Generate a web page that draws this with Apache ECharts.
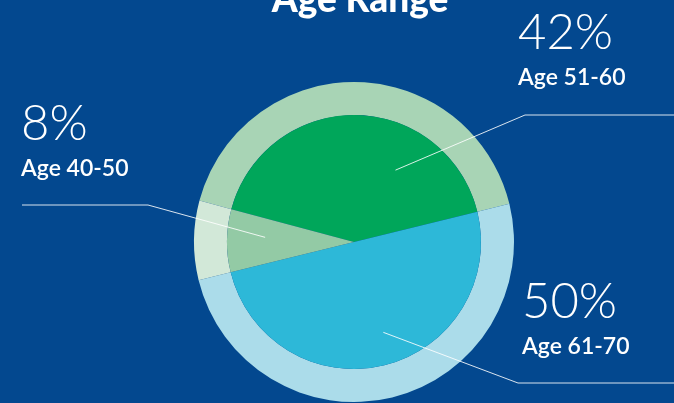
<!DOCTYPE html>
<html>
<head>
<meta charset="utf-8">
<script src="https://cdn.jsdelivr.net/npm/echarts@6/dist/echarts.min.js"></script>
<style>
  html, body { margin: 0; padding: 0; background: #03488f; }
  #main { width: 674px; height: 403px; }
</style>
</head>
<body>
<div id="main"></div>
<script>
// 数据
var ages = ['Age 51-60', 'Age 61-70', 'Age 40-50'];
var shares = [42, 50, 8];
var innerColors = ['#00a65a', '#2db8d8', '#93caa5'];
var ringColors = ['#a8d4b5', '#abdcea', '#d2e8d8'];

// 标签位置 (布局)
var cx = 354, cy = 242, rIn = 127, rOut = 160;
var spots = [
    { a: 60, r: 83, knee: [525, 115], endX: 674, x: 518, y: 7 },
    { a: -72, r: 95, knee: [518, 383], endX: 674, x: 522, y: 276 },
    { a: 177, r: 89, knee: [148, 205], endX: 22, x: 21, y: 98 }
];

var innerData = [], ringData = [], labelData = [];
for (var i = 0; i < ages.length; i++) {
    innerData.push({ name: ages[i], value: shares[i], itemStyle: { color: innerColors[i] } });
    ringData.push({ name: ages[i], value: shares[i], itemStyle: { color: ringColors[i] } });
    labelData.push({ name: ages[i], value: shares[i] });
}

var myChart = echarts.init(document.getElementById('main'));
var option = {
    backgroundColor: '#03488f',
    animation: false,
    title: {
        text: 'Age Range',
        left: 355,
        textAlign: 'center',
        top: -23,
        textStyle: { color: '#fff', fontFamily: 'Lato', fontWeight: 900, fontSize: 37 }
    },
    series: [
        {
            type: 'pie',
            center: [cx, cy],
            radius: [rIn, rOut],
            startAngle: 165,
            silent: true,
            label: { show: false },
            labelLine: { show: false },
            data: ringData
        },
        {
            type: 'pie',
            center: [cx, cy],
            radius: [0, rIn],
            startAngle: 165,
            silent: true,
            label: { show: false },
            labelLine: { show: false },
            data: innerData
        },
        {
            // 标签层
            type: 'pie',
            z: 10,
            center: [cx, cy],
            radius: [0, rIn],
            startAngle: 165,
            silent: true,
            itemStyle: { color: 'rgba(0,0,0,0)' },
            label: {
                show: true,
                position: 'outside',
                formatter: function (p) {
                    return '{p|' + p.value + '%}\n{n|' + p.name + '}';
                },
                rich: {
                    p: { color: '#fff', fontFamily: 'Lato', fontWeight: 300, fontSize: 49, lineHeight: 52 },
                    n: { color: '#fff', fontFamily: 'Lato', fontWeight: 600, fontSize: 23, lineHeight: 38 }
                }
            },
            labelLine: {
                show: true,
                lineStyle: { color: 'rgba(255,255,255,0.85)', width: 1 }
            },
            labelLayout: function (params) {
                var s = spots[params.dataIndex];
                var rad = s.a * Math.PI / 180;
                var start = [cx + s.r * Math.cos(rad), cy - s.r * Math.sin(rad)];
                return {
                    x: s.x,
                    y: s.y,
                    align: 'left',
                    verticalAlign: 'top',
                    labelLinePoints: [start, s.knee, [s.endX, s.knee[1]]]
                };
            },
            data: labelData
        }
    ]
};
myChart.setOption(option);
</script>
</body>
</html>
